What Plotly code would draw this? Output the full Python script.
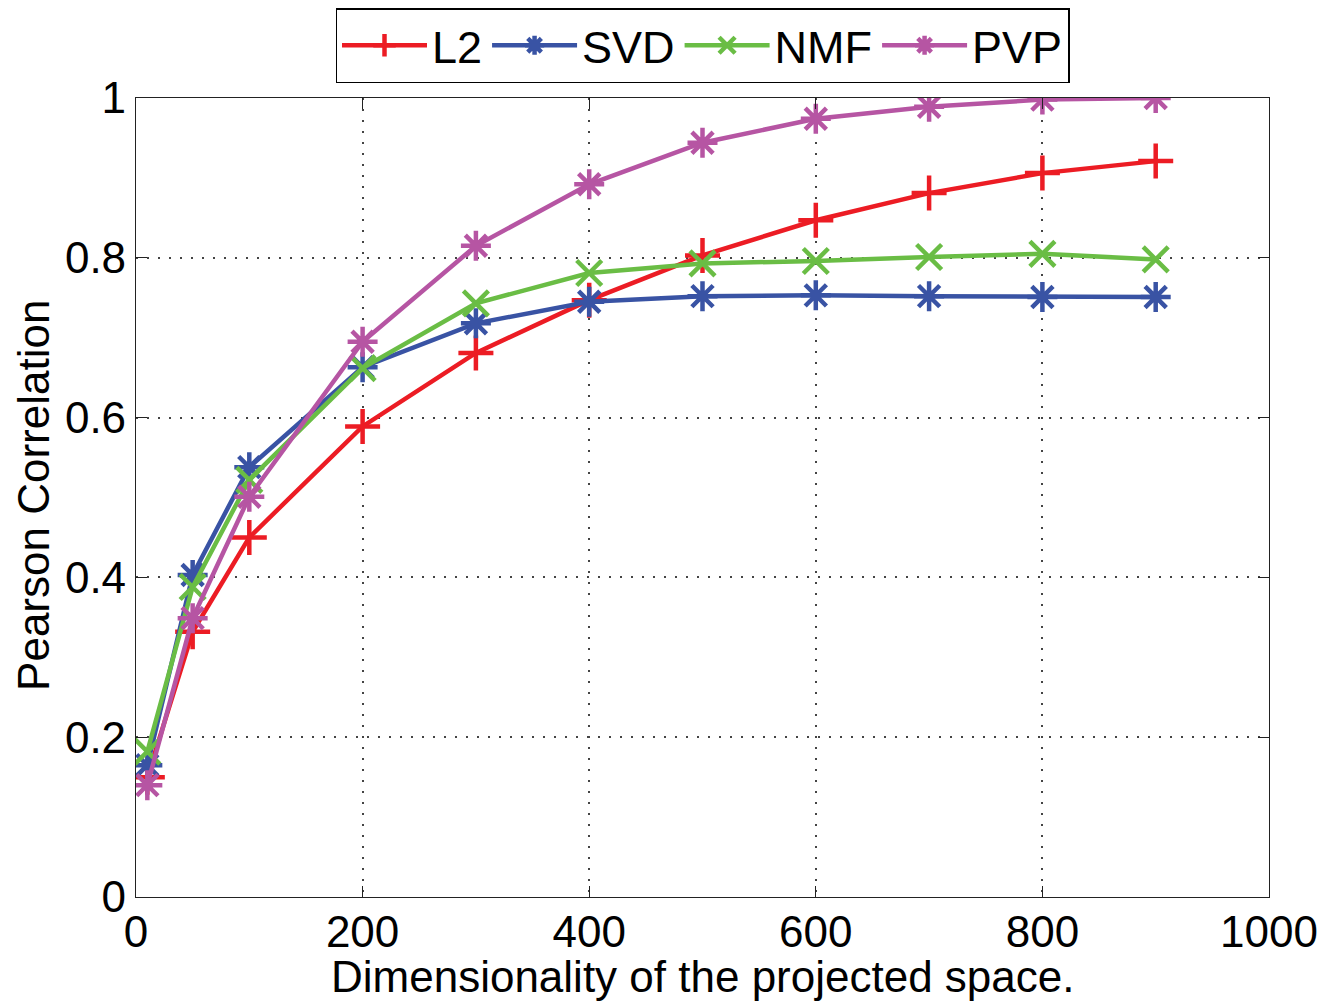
import plotly.graph_objects as go

dims = [10, 50, 100, 200, 300, 400, 500, 600, 700, 800, 900]

l2 = [0.15, 0.332, 0.45, 0.589, 0.681, 0.747, 0.803, 0.847, 0.881, 0.906, 0.921]
svd = [0.165, 0.403, 0.538, 0.663, 0.718, 0.745, 0.752, 0.753, 0.752, 0.751, 0.751]
nmf = [0.182, 0.388, 0.522, 0.662, 0.743, 0.781, 0.793, 0.796, 0.801, 0.805, 0.798]
pvp = [0.140, 0.349, 0.501, 0.695, 0.815, 0.892, 0.944, 0.974, 0.989, 0.998, 1.0]

series = [
    ("L2", l2, "#ec1c24", "cross-thin-open"),
    ("SVD", svd, "#3953a4", "asterisk-open"),
    ("NMF", nmf, "#6abd45", "x-thin-open"),
    ("PVP", pvp, "#b655a3", "asterisk-open"),
]

fig = go.Figure()
for name, vals, color, sym in series:
    fig.add_trace(go.Scatter(
        x=dims, y=vals, name=name, mode="lines+markers",
        line=dict(color=color, width=4.5),
        marker=dict(symbol=sym, size=25, line=dict(color=color, width=4.5)),
    ))

font = "Liberation Sans, Arial, sans-serif"
axis_common = dict(
    showline=True, linecolor="#222222", linewidth=1.2, mirror="ticks",
    ticks="inside", ticklen=11, tickcolor="#222222", tickwidth=1.2,
    showgrid=True, gridcolor="#444444", griddash="2px,9px", gridwidth=1.5,
    zeroline=False,
    tickfont=dict(family=font, size=44, color="black"),
)

# page body has an 8px margin, so shift the plot area back by 8px
fig.update_layout(
    width=1326, height=1002,
    paper_bgcolor="white", plot_bgcolor="white",
    margin=dict(l=128, r=65, t=90, b=113, autoexpand=False),
    font=dict(family=font, color="black"),
    xaxis=dict(range=[0, 1000], dtick=200, ticklabelstandoff=-4, **axis_common),
    yaxis=dict(range=[0, 1], dtick=0.2, **axis_common),
    legend=dict(orientation="h", x=0.5, xanchor="center",
                yref="container", y=1.0, yanchor="top",
                bordercolor="black", borderwidth=1.5, bgcolor="white",
                font=dict(size=45, family=font), itemwidth=85),
    annotations=[
        dict(text="Dimensionality of the projected space.", xref="paper", yref="paper",
             x=0.5, y=-0.1, xanchor="center", yanchor="middle", showarrow=False,
             font=dict(size=44, family=font)),
        dict(text="Pearson Correlation", xref="paper", yref="paper",
             x=-0.09, y=0.502, xanchor="center", yanchor="middle", showarrow=False,
             textangle=-90, font=dict(size=44, family=font)),
    ],
)

fig.write_html("out.html")
